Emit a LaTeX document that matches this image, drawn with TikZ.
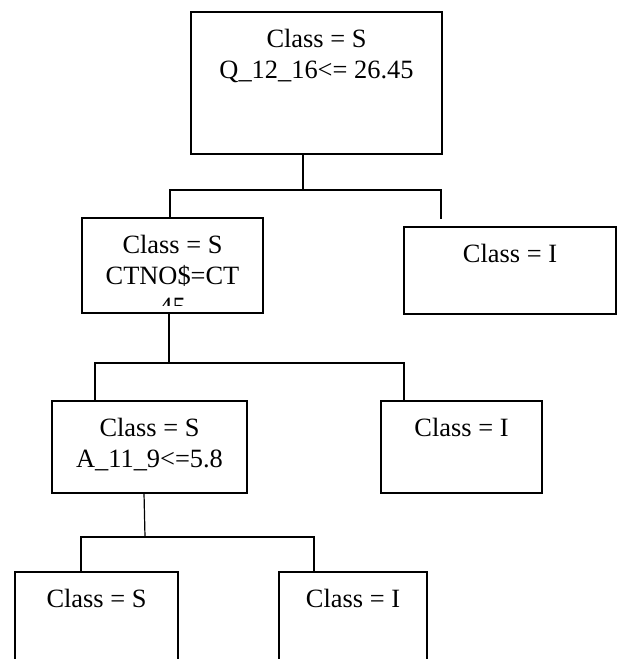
\documentclass[tikz,border=0pt]{standalone}
\usepackage{fontspec}
\setmainfont{Liberation Serif}
\usepackage{xcolor}
\usepackage{tikz}
\usetikzlibrary{positioning}
\definecolor{dtInk}{HTML}{000000}
\tikzset{
  dt diagram/.style={x=0.75pt, y=-0.75pt, text=dtInk, line cap=rect},
  dt box/.style={draw=dtInk, fill=white, line width=1.1pt, rectangle,
    anchor=north west, inner sep=0pt, outer sep=0pt},
  dt text/.style={anchor=north, align=center, inner sep=0pt,
    font=\fontsize{19.8}{23.25}\selectfont},
  dt link/.style={draw=dtInk, line width=0.9pt}
}
\begin{document}
\begin{tikzpicture}[dt diagram]
\path[use as bounding box, clip] (0,0) rectangle (617,659);
\node[dt box, minimum width=251*0.75pt, minimum height=142*0.75pt] (root) at (191,12) {};
\node[dt box, minimum width=181*0.75pt, minimum height=95*0.75pt] (ctno) at (82,218) {};
\node[dt box, minimum width=212*0.75pt, minimum height=87*0.75pt] (i1) at (404,227) {};
\node[dt box, minimum width=195*0.75pt, minimum height=92*0.75pt] (a119) at (52,401) {};
\node[dt box, minimum width=161*0.75pt, minimum height=92*0.75pt] (i2) at (381,401) {};
\node[dt box, minimum width=163*0.75pt, minimum height=120*0.75pt] (s3) at (15,572) {};
\node[dt box, minimum width=148*0.75pt, minimum height=120*0.75pt] (i3) at (279,572) {};
\node[dt text, below=17*0.75pt of root.north] (root text) {Class = S\\Q\_12\_16<= 26.45};
\begin{scope}
\clip (82,218) rectangle (263,305);
\node[dt text, below=17*0.75pt of ctno.north] (ctno text) {Class = S\\CTNO\$=CT\\45};
\end{scope}
\node[dt text, below=17*0.75pt of i1.north] (i1 text) {Class = I};
\node[dt text, below=17*0.75pt of a119.north] (a119 text) {Class = S\\A\_11\_9<=5.8};
\node[dt text, below=17*0.75pt of i2.north] (i2 text) {Class = I};
\node[dt text, below=17*0.75pt of s3.north] (s3 text) {Class = S};
\node[dt text, below=17*0.75pt of i3.north] (i3 text) {Class = I};
\coordinate (i1 tip) at (441,218);
\draw[dt link] (root.south -| 303,0) -- (303,190);
\draw[dt link] (ctno.north -| 170,0) |- (441,190) -- (i1 tip);
\draw[dt link] (ctno.south -| 169,0) -- (169,363);
\draw[dt link] (a119.north -| 95,0) |- (404,363) -- (i2.north -| 404,0);
\draw[dt link] (a119.south -| 144,0) -- (145,537);
\draw[dt link] (s3.north -| 81,0) |- (314,537) -- (i3.north -| 314,0);
\end{tikzpicture}
\end{document}
